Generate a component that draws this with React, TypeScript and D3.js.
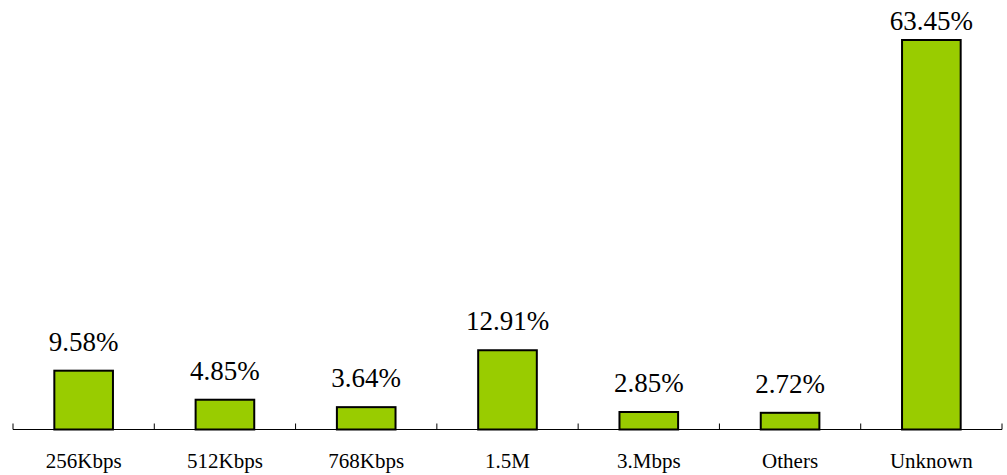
import * as React from "react"
import * as d3 from "d3"

const categories = ["256Kbps", "512Kbps", "768Kbps", "1.5M", "3.Mbps", "Others", "Unknown"]
const shares = [9.58, 4.85, 3.64, 12.91, 2.85, 2.72, 63.45]
const valueLabels = ["9.58%", "4.85%", "3.64%", "12.91%", "2.85%", "2.72%", "63.45%"]

const width = 1007
const height = 475
const fontFamily = "'Liberation Serif', Tinos, 'Nimbus Roman', 'Nimbus Roman No9 L', FreeSerif, 'Noto Serif', 'DejaVu Serif', serif"

export default function App() {
  const svgRef = React.useRef<SVGSVGElement>(null)

  React.useEffect(() => {
    if (!svgRef.current) return
    const svg = d3.select(svgRef.current)
    svg.selectAll("*").remove()

    const axisY = 429.5
    const x = d3.scaleBand<string>().domain(categories).range([13, 1002]).paddingInner(0).paddingOuter(0)
    const y = d3.scaleLinear().domain([0, 63.45]).range([axisY, 40])
    const barW = x.bandwidth() * 0.415

    const g = svg.append("g")

    g.selectAll("rect.bar")
      .data(shares)
      .enter()
      .append("rect")
      .attr("class", "bar")
      .attr("x", (_, i) => (x(categories[i]) ?? 0) + x.bandwidth() / 2 - barW / 2)
      .attr("y", (d) => y(d))
      .attr("width", barW)
      .attr("height", (d) => axisY - y(d))
      .attr("fill", "#99cc00")
      .attr("stroke", "#000")
      .attr("stroke-width", 2)

    // axis line + ticks between categories
    g.append("line")
      .attr("x1", 13)
      .attr("x2", 1002)
      .attr("y1", axisY)
      .attr("y2", axisY)
      .attr("stroke", "#000")
      .attr("stroke-width", 1)

    const tickXs = categories.map((c) => x(c) ?? 0).concat([1002])
    g.selectAll("line.tick")
      .data(tickXs)
      .enter()
      .append("line")
      .attr("class", "tick")
      .attr("x1", (d) => d)
      .attr("x2", (d) => d)
      .attr("y1", axisY)
      .attr("y2", axisY - 6)
      .attr("stroke", "#000")
      .attr("stroke-width", 1)

    g.selectAll("text.cat")
      .data(categories)
      .enter()
      .append("text")
      .attr("class", "cat")
      .attr("x", (d) => (x(d) ?? 0) + x.bandwidth() / 2)
      .attr("y", 467.5)
      .attr("text-anchor", "middle")
      .style("font-family", fontFamily)
      .attr("font-size", 21)
      .attr("fill", "#000")
      .text((d) => d)

    g.selectAll("text.val")
      .data(shares)
      .enter()
      .append("text")
      .attr("class", "val")
      .attr("x", (_, i) => (x(categories[i]) ?? 0) + x.bandwidth() / 2)
      .attr("y", (d) => Math.max(30, y(d) - 20))
      .attr("text-anchor", "middle")
      .style("font-family", fontFamily)
      .attr("font-size", 27)
      .attr("fill", "#000")
      .text((_, i) => valueLabels[i])
  }, [])

  return (
    <svg
      ref={svgRef}
      width={width}
      height={height}
      viewBox={`0 0 ${width} ${height}`}
      style={{ position: "absolute", left: 0, top: 0, background: "#fff" }}
    />
  )
}
